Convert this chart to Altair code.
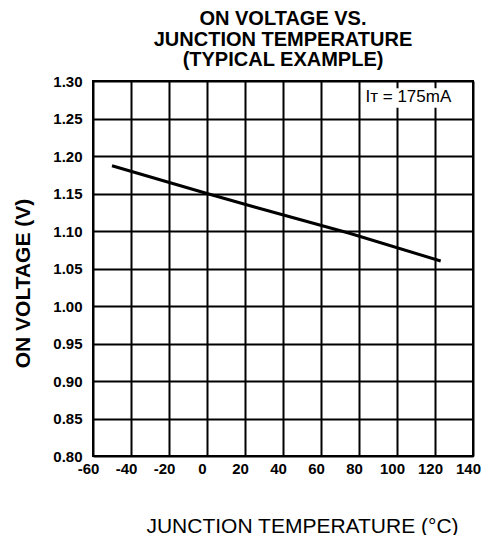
import altair as alt
import pandas as pd

# Curve
temp_c = [-50, 0, 25, 75, 123]
on_volt = [1.187, 1.150, 1.132, 1.097, 1.060]

x_ticks = [-60, -40, -20, 0, 20, 40, 60, 80, 100, 120, 140]
y_ticks = [0.80, 0.85, 0.90, 0.95, 1.00, 1.05, 1.10, 1.15, 1.20, 1.25, 1.30]

title_lines = ["ON VOLTAGE VS.", "JUNCTION TEMPERATURE", "(TYPICAL EXAMPLE)"]

note_label = ["I\u1D1B = 175mA"]
note_x = [106.0]
note_y = [1.2785]
box_x = [82.0]
box_x2 = [137.5]
box_y = [1.2645]
box_y2 = [1.2905]

FONT = "Liberation Sans"

curve = pd.DataFrame({"t": temp_c, "v": on_volt})
note = pd.DataFrame({"label": note_label, "x": note_x, "y": note_y})
box = pd.DataFrame({"x": box_x, "x2": box_x2, "y": box_y, "y2": box_y2})

xscale = alt.Scale(domain=[-60, 140], nice=False, zero=False)
yscale = alt.Scale(domain=[0.80, 1.30], nice=False, zero=False)

xaxis = alt.Axis(
    values=x_ticks, title="JUNCTION TEMPERATURE (\u00b0C)", grid=True,
    gridColor="black", gridWidth=2, gridOpacity=1, domain=False, ticks=False,
    labelPadding=5, labelFont=FONT, labelFontSize=15, labelFontWeight="bold",
    labelColor="black", labelOffset=-5, labelFlush=False, labelOverlap=False,
    labelExpr="replace(datum.label, '\u2212', '-')",
    titleFont=FONT, titleFontSize=21, titleFontWeight="normal", titleColor="black",
    titlePadding=39, titleX=209,
)
yaxis = alt.Axis(
    values=y_ticks, format=".2f", title="ON VOLTAGE  (V)", grid=True,
    gridColor="black", gridWidth=2, gridOpacity=1, domain=False, ticks=False,
    labelPadding=11, labelFont=FONT, labelFontSize=15, labelFontWeight="bold",
    labelColor="black", labelFlush=False, labelOverlap=False,
    titleFont=FONT, titleFontSize=21, titleFontWeight="bold", titleColor="black",
    titleX=-70, titleY=202, titleBaseline="middle", titleAngle=270,
)

line = alt.Chart(curve).mark_line(color="black", strokeWidth=3).encode(
    x=alt.X("t:Q", scale=xscale, axis=xaxis),
    y=alt.Y("v:Q", scale=yscale, axis=yaxis),
)

rect = alt.Chart(box).mark_rect(color="white").encode(
    x=alt.X("x:Q", scale=xscale, axis=xaxis), x2="x2:Q",
    y=alt.Y("y:Q", scale=yscale, axis=yaxis), y2="y2:Q",
)

text = alt.Chart(note).mark_text(
    font=FONT, fontSize=17, color="black", align="center", baseline="middle"
).encode(
    x=alt.X("x:Q", scale=xscale, axis=xaxis),
    y=alt.Y("y:Q", scale=yscale, axis=yaxis),
    text="label:N",
)

chart = alt.layer(rect, line, text).properties(
    width=380,
    height=375,
    background="white",
    title=alt.TitleParams(
        text=title_lines, font=FONT, fontSize=20, fontWeight="bold",
        color="black", lineHeight=20.5, anchor="middle", offset=4,
    ),
    autosize=alt.AutoSizeParams(type="none"),
    padding={"left": 85, "top": 73, "right": 9, "bottom": 79},
).configure_view(
    stroke="black", strokeWidth=2
)

chart.save("out.html", embed_options={"renderer": "svg", "actions": False})
